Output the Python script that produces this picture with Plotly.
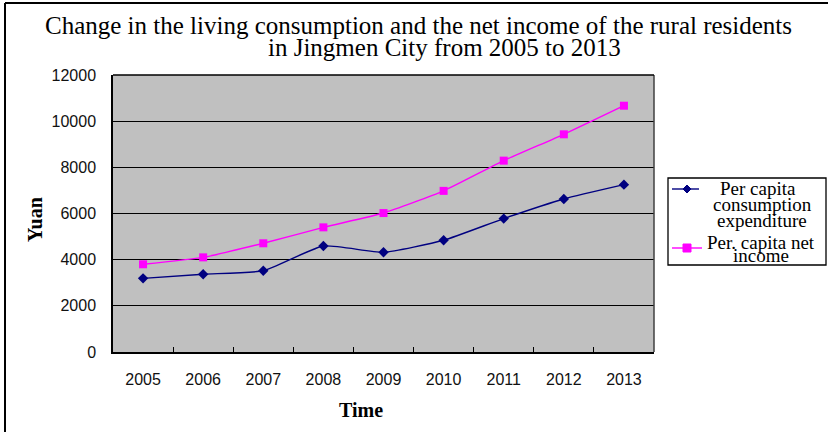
import plotly.graph_objects as go

years = ["2005", "2006", "2007", "2008", "2009", "2010", "2011", "2012", "2013"]
consumption = [3190, 3370, 3520, 4590, 4320, 4840, 5780, 6630, 7250]
income = [3800, 4100, 4710, 5400, 6020, 6980, 8290, 9430, 10670]
y_ticks = [0, 2000, 4000, 6000, 8000, 10000, 12000]
y_tick_labels = [str(v) for v in y_ticks]

W, H = 828, 432
L, R, T, B = 113, 174, 75, 80
pw, ph = W - L - R, H - T - B


def px(x):
    return (x - L) / pw


def py(y):
    return (H - B - y) / ph


serif = "Liberation Serif, Times New Roman, serif"
sans = "Liberation Sans, Arial, sans-serif"
navy = "#000080"
magenta = "#ff00ff"

fig = go.Figure()
fig.add_trace(go.Scatter(
    x=years, y=consumption, mode="lines+markers",
    name="Per capita consumption expenditure",
    line=dict(color=navy, width=1.4, shape="spline", smoothing=0.5),
    marker=dict(symbol="diamond", size=8, color=navy),
))
fig.add_trace(go.Scatter(
    x=years, y=income, mode="lines+markers",
    name="Per. capita net income",
    line=dict(color=magenta, width=1.4, shape="spline", smoothing=0.5),
    marker=dict(symbol="square", size=8, color=magenta),
))

annotations = []


def text(t, x, y, size, family=serif, xanchor="center", angle=0):
    annotations.append(dict(
        text=t, x=px(x), y=py(y), xref="paper", yref="paper",
        xanchor=xanchor, yanchor="middle", showarrow=False, textangle=angle,
        font=dict(family=family, size=size, color="black"),
    ))


# title
text("Change in the living consumption and the net income of the rural residents", 418, 26, 25)
text("in Jingmen City from 2005 to 2013", 444, 48, 25)
# axis titles
text("<b>Yuan</b>", 35, 220, 20, angle=-90)
text("<b>Time</b>", 361, 410, 20)
# legend texts
text("Per capita", 758, 188, 19)
text("consumption", 762, 204, 19)
text("expenditure", 762, 220, 19)
text("Per. capita net", 761, 242, 19)
text("income", 761, 255, 19)

shapes = [
    # outer frame (left and top)
    dict(type="line", xref="paper", yref="paper", x0=px(5), x1=px(5), y0=py(H), y1=py(3),
         line=dict(color="black", width=2)),
    dict(type="line", xref="paper", yref="paper", x0=px(5), x1=px(W), y0=py(3), y1=py(3),
         line=dict(color="black", width=2)),
    # plot area right / top border
    dict(type="line", xref="paper", yref="paper", x0=1, x1=1, y0=0, y1=1,
         line=dict(color="#404040", width=1.5)),
    dict(type="line", xref="paper", yref="paper", x0=0, x1=1, y0=1, y1=1,
         line=dict(color="black", width=1.3)),
    # legend box
    dict(type="rect", xref="paper", yref="paper", x0=px(668), x1=px(826), y0=py(265), y1=py(178),
         line=dict(color="black", width=1.3), fillcolor="white"),
    # legend glyphs
    dict(type="line", xref="paper", yref="paper", x0=px(672), x1=px(699), y0=py(189), y1=py(189),
         line=dict(color=navy, width=1.4)),
    dict(type="path", xref="paper", yref="paper",
         path=f"M {px(687)},{py(185)} L {px(691)},{py(189)} L {px(687)},{py(193)} L {px(683)},{py(189)} Z",
         line=dict(color=navy, width=1), fillcolor=navy),
    dict(type="line", xref="paper", yref="paper", x0=px(672), x1=px(702), y0=py(248), y1=py(248),
         line=dict(color=magenta, width=1.4)),
    dict(type="rect", xref="paper", yref="paper", x0=px(683), x1=px(691), y0=py(252), y1=py(244),
         line=dict(color=magenta, width=1), fillcolor=magenta),
]

fig.update_layout(
    width=W, height=H,
    margin=dict(l=L, r=R, t=T, b=B),
    paper_bgcolor="white",
    plot_bgcolor="#c0c0c0",
    showlegend=False,
    xaxis=dict(
        type="category", range=[-0.5, 8.5],
        tickson="boundaries", ticks="inside", ticklen=5, tickcolor="black", tickwidth=1.3,
        showline=True, linecolor="black", linewidth=1.5,
        showgrid=False,
        tickfont=dict(family=sans, size=16, color="#111111"),
        ticklabelstandoff=12,
    ),
    yaxis=dict(
        range=[0, 12000], tickvals=y_ticks, ticktext=y_tick_labels,
        showline=True, linecolor="black", linewidth=1.5,
        showgrid=True, gridcolor="black", gridwidth=1.3,
        zeroline=False, ticks="",
        tickfont=dict(family=sans, size=16, color="#111111"),
        ticklabelstandoff=12,
    ),
    annotations=annotations,
    shapes=shapes,
)

fig.write_html("out.html")
